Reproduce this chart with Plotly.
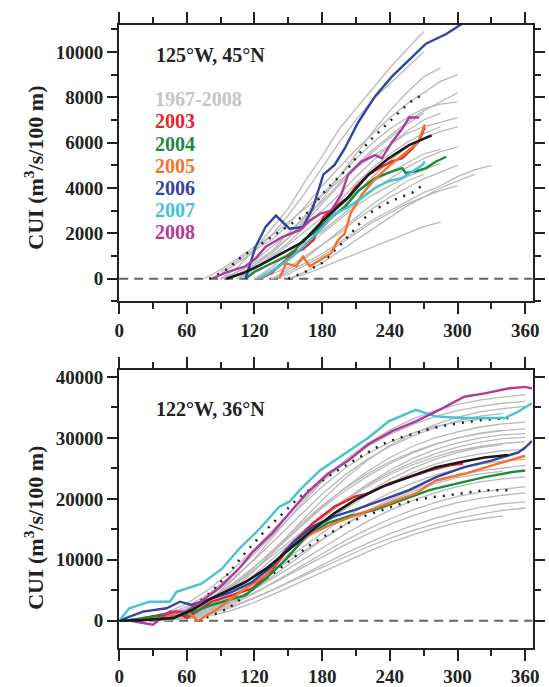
import plotly.graph_objects as go

# ---------------- DATA ----------------
# Top panel (125W, 45N) -- days and cumulative upwelling index
TOP_GRAY_DAYS = [75, 90, 105, 120, 135, 150, 165, 180, 195, 210, 225, 240, 255, 270, 285, 300, 315, 330]
N = None
TOP_GRAY = [
    [N, 0, 500, 1300, 2200, 3100, 4300, 5400, 6600, 7500, 8400, 9300, 10100, 10900, N, N, N, N],
    [N, 200, 700, 1200, 1900, 2800, 3800, 4900, 6000, 7000, 7900, 8600, 9300, 10000, N, N, N, N],
    [N, 300, 800, 1300, 1700, 2400, 3200, 4100, 4900, 5700, 6400, 7100, 7700, 8200, 8700, 9000, N, N],
    [N, N, 0, 600, 1200, 2000, 2800, 3700, 4500, 5300, 6000, 6600, 7100, 7500, 7700, 7800, N, N],
    [0, 400, 900, 1400, 1900, 2500, 3100, 3700, 4300, 4900, 5400, 5900, 6400, 6700, 6900, 7100, N, N],
    [N, N, N, 0, 400, 900, 1500, 2200, 3000, 3800, 4500, 5200, 5800, 6200, 6500, 6700, N, N],
    [N, N, 0, 300, 700, 1100, 1600, 2100, 2700, 3300, 3900, 4400, 4900, 5300, 5600, 5800, N, N],
    [N, N, N, N, 0, 300, 700, 1100, 1600, 2100, 2600, 3000, 3400, 3800, 4100, 4500, 4800, 5000],
    [N, N, N, N, N, 0, 200, 500, 800, 1100, 1400, 1700, 2000, 2300, 2500, N, N, N],
    [N, 0, 300, 800, 1400, 2000, 2700, 3400, 4200, 5000, 5700, 6300, 6900, 7400, 7800, 8200, N, N],
    [N, N, N, 0, 300, 800, 1400, 2000, 2600, 3200, 3700, 4100, 4500, 4800, 5100, N, N, N],
    [N, N, N, N, 0, 400, 900, 1500, 2100, 2700, 3300, 3800, 4300, 4600, N, N, N, N],
    [N, 0, 200, 600, 1100, 1800, 2600, 3500, 4500, 5500, 6500, 7400, 8200, 8900, 9300, N, N, N],
    [N, N, 0, 400, 900, 1500, 2100, 2700, 3200, 3800, 4300, 4700, 5100, 5500, 5700, N, N, N],
    [N, N, N, N, N, 0, 300, 700, 1200, 1700, 2200, 2700, 3200, 3600, 4000, 4300, 4600, N],
    [N, N, N, 0, 200, 500, 1000, 1500, 2000, 2600, 3100, 3600, 4000, 4400, 4700, 5000, N, N],
    [N, N, 0, 500, 1000, 1600, 2300, 3000, 3700, 4500, 5200, 5900, 6500, 7000, 7300, N, N, N],
    [N, 0, 300, 700, 1200, 1800, 2500, 3300, 4100, 4900, 5600, 6200, 6800, 7300, N, N, N, N],
    [N, N, N, 0, 500, 1100, 1800, 2600, 3400, 4200, 4900, 5500, 6000, 6400, 6700, N, N, N],
    [N, N, N, N, 0, 200, 600, 1000, 1500, 2000, 2500, 2900, 3300, 3600, 3900, 4100, N, N],
]

TOP_MEAN_DAYS = [95, 110, 125, 140, 163, 181, 203, 221, 239, 257, 277]
TOP_MEAN_VALS = [0, 250, 600, 1000, 1630, 2570, 3580, 4590, 5310, 5890, 6320]
TOP_UP_DAYS = [80, 95, 109, 133, 150, 166, 185, 203, 221, 239, 257, 272]
TOP_UP_VALS = [0, 400, 980, 1775, 2300, 2860, 4010, 4880, 6030, 6900, 7760, 8200]
TOP_LO_DAYS = [150, 165, 180, 200, 221, 233, 242, 260, 272]
TOP_LO_VALS = [0, 300, 700, 1700, 2860, 3220, 3440, 3800, 4230]

TOP_2003_D = [125, 135, 145, 154, 163, 172, 181, 191, 203, 209, 221, 233, 242, 251, 260, 266, 271]
TOP_2003_V = [0, 250, 700, 1125, 1300, 1700, 2710, 3150, 3580, 4010, 4590, 4950, 5170, 5310, 5740, 6100, 6680]
TOP_2004_D = [112, 120, 130, 140, 148, 156, 163, 172, 178, 188, 200, 212, 227, 242, 251, 254, 263, 272, 281, 290]
TOP_2004_V = [0, 300, 550, 800, 980, 1250, 1700, 1990, 2280, 2710, 3150, 3870, 4440, 4730, 4880, 4660, 4730, 4880, 5170, 5380]
TOP_2005_D = [142, 148, 157, 163, 169, 178, 188, 194, 200, 205, 215, 227, 240, 255, 265, 271]
TOP_2005_V = [0, 690, 550, 980, 550, 840, 1125, 1700, 1990, 2860, 3700, 4400, 5000, 5600, 6000, 6800]
TOP_2006_D = [112, 121, 130, 139, 151, 163, 172, 181, 191, 200, 212, 227, 242, 257, 272, 290, 306]
TOP_2006_V = [0, 1414, 2300, 2785, 2208, 2280, 3146, 4590, 5020, 5743, 6900, 8050, 8920, 9640, 10360, 10790, 11300]
TOP_2007_D = [124, 133, 142, 154, 166, 178, 191, 203, 215, 227, 239, 251, 260, 269, 271]
TOP_2007_V = [0, 250, 550, 1000, 1560, 2140, 2860, 3150, 3580, 4010, 4300, 4440, 4730, 5020, 5170]
TOP_2008_D = [82, 94, 112, 121, 130, 145, 160, 169, 178, 188, 197, 203, 215, 227, 233, 242, 251, 257, 266]
TOP_2008_V = [0, 260, 550, 900, 1414, 1850, 2140, 2570, 2860, 3000, 3720, 4590, 5170, 5450, 5310, 6030, 6610, 7110, 7110]

# Bottom panel (122W, 36N)
BOT_GRAY_DAYS = [0, 20, 40, 60, 80, 100, 120, 140, 160, 180, 200, 220, 240, 260, 280, 300, 320, 340, 360]
BOT_GRAY = [
    [0, 400, 1200, 2800, 5200, 8200, 11800, 15600, 19400, 23000, 26300, 29100, 31300, 33100, 34500, 35500, 36200, 36700, 37100],
    [0, 200, 600, 1500, 3500, 6500, 10200, 14500, 18900, 22800, 26000, 28600, 30600, 32200, 33500, 34500, 35200, 35700, 36000],
    [0, 100, 300, 900, 2400, 4900, 8200, 12000, 16000, 19800, 23300, 26300, 28800, 30700, 32200, 33400, 34300, 34800, 35200],
    [0, 300, 900, 2000, 4000, 6800, 10000, 13600, 17300, 20800, 23900, 26500, 28600, 30300, 31700, 32800, 33600, 34000, N],
    [0, 100, 400, 1200, 2900, 5400, 8400, 11800, 15300, 18700, 21800, 24500, 26800, 28600, 30000, 31000, 31800, 32300, 32600],
    [0, 200, 700, 1700, 3600, 6000, 8900, 12100, 15400, 18500, 21300, 23700, 25800, 27500, 28900, 30000, 30800, 31300, N],
    [0, 100, 300, 800, 2000, 4000, 6800, 10000, 13400, 16700, 19700, 22400, 24700, 26600, 28100, 29200, 30000, 30500, 30700],
    [0, 300, 800, 1800, 3500, 5800, 8400, 11300, 14300, 17200, 19900, 22300, 24300, 26000, 27400, 28500, 29300, 29900, 30100],
    [0, 0, 200, 700, 1800, 3700, 6300, 9300, 12500, 15600, 18500, 21000, 23200, 25000, 26500, 27600, 28400, 28900, N],
    [0, 200, 600, 1400, 2900, 4900, 7300, 10000, 12900, 15700, 18300, 20600, 22600, 24300, 25700, 26700, 27400, 27900, 28100],
    [0, 100, 400, 1000, 2200, 4000, 6300, 8900, 11700, 14400, 16900, 19100, 21000, 22600, 23900, 24900, 25700, 26200, 26500],
    [0, 0, 100, 500, 1400, 3000, 5200, 7800, 10600, 13300, 15800, 18000, 19900, 21500, 22800, 23800, 24600, 25100, 25500],
    [0, 200, 500, 1200, 2500, 4200, 6300, 8600, 11000, 13400, 15700, 17800, 19600, 21200, 22500, 23500, 24100, 24500, N],
    [0, 100, 300, 800, 1800, 3300, 5200, 7400, 9700, 12000, 14200, 16300, 18100, 19700, 21000, 22000, 22800, 23300, 23600],
    [0, 0, 200, 600, 1400, 2700, 4500, 6600, 8800, 11000, 13100, 15000, 16700, 18200, 19400, 20400, 21100, 21600, 22000],
    [0, 100, 300, 800, 1700, 3000, 4600, 6500, 8500, 10500, 12400, 14200, 15800, 17200, 18400, 19400, 20100, 20600, 21000],
    [0, 0, 100, 400, 1100, 2200, 3700, 5400, 7300, 9200, 11000, 12700, 14300, 15600, 16800, 17800, 18600, 19200, 19500],
    [0, 100, 200, 600, 1300, 2400, 3800, 5400, 7100, 8800, 10500, 12100, 13500, 14800, 15900, 16800, 17500, 18100, 18500],
    [0, 0, 100, 300, 800, 1700, 3000, 4600, 6300, 8000, 9700, 11300, 12800, 14100, 15200, 16100, 16700, 17200, N],
    [0, 300, 1000, 2300, 4500, 7500, 11000, 14800, 18600, 22000, 25000, 27400, 29300, 30800, 31900, 32600, 33100, 33400, N],
    [0, 100, 500, 1300, 3000, 5600, 8800, 12300, 15700, 18900, 21700, 24100, 26100, 27700, 29000, 30000, 30700, 31200, 31500],
    [0, 0, 300, 1000, 2500, 4700, 7600, 10800, 14000, 17000, 19700, 22000, 24000, 25600, 26900, 27900, 28600, 29100, 29400],
]

BOT_MEAN_DAYS = [0, 20, 48, 65, 82, 100, 112, 130, 151, 172, 191, 209, 233, 257, 281, 302, 324, 345]
BOT_MEAN_VALS = [0, 100, 430, 1800, 3660, 5200, 6350, 8500, 11740, 14970, 17660, 19810, 21970, 23580, 25200, 26000, 26800, 27200]
BOT_UP_DAYS = [60, 82, 97, 112, 127, 142, 157, 172, 188, 203, 218, 233, 248, 263, 278, 293, 308, 324, 345]
BOT_UP_VALS = [1500, 4740, 7800, 11200, 14300, 17120, 19800, 21970, 24000, 25730, 27400, 28960, 30000, 30850, 31600, 32190, 32600, 33000, 33270]
BOT_LO_DAYS = [70, 83, 97, 108, 118, 130, 142, 157, 172, 188, 203, 218, 233, 248, 263, 278, 293, 308, 324, 348]
BOT_LO_VALS = [0, 900, 2050, 3600, 5280, 6900, 8500, 10700, 12800, 14500, 16040, 17200, 18200, 19100, 19810, 20300, 20620, 21000, 21430, 21430]

BOT_2003_D = [12, 24, 36, 51, 60, 70, 82, 100, 118, 136, 154, 172, 191, 209, 221, 239, 257, 275, 293, 305]
BOT_2003_V = [0, 500, 970, 1500, 430, 1700, 3120, 4200, 5280, 8500, 12810, 16040, 18730, 20350, 20890, 22500, 23580, 24660, 25500, 25800]
BOT_2004_D = [6, 30, 60, 82, 112, 130, 148, 166, 185, 203, 227, 251, 275, 299, 324, 348, 360]
BOT_2004_V = [0, 700, 970, 2580, 4200, 6890, 10120, 13890, 16040, 17120, 18200, 19810, 21430, 22500, 23580, 24390, 24660]
BOT_2005_D = [12, 36, 60, 70, 88, 112, 130, 148, 166, 191, 215, 239, 263, 281, 306, 330, 354, 360]
BOT_2005_V = [0, 430, 1500, 0, 2050, 5280, 7430, 11740, 13890, 16040, 17660, 19270, 20890, 23040, 24120, 25460, 26810, 27080]
BOT_2006_D = [0, 21, 42, 54, 64, 82, 100, 118, 136, 154, 172, 191, 209, 233, 257, 281, 306, 330, 354, 360, 366]
BOT_2006_V = [0, 1500, 2050, 3120, 2580, 3660, 4740, 6350, 9040, 12810, 15500, 17120, 18200, 19810, 21430, 23580, 25200, 26270, 27620, 28430, 29500]
BOT_2007_D = [0, 9, 27, 45, 51, 73, 91, 106, 124, 142, 151, 160, 178, 200, 221, 239, 263, 281, 302, 324, 342, 354, 366]
BOT_2007_V = [0, 2050, 3120, 3120, 4740, 6080, 8500, 11740, 14970, 18730, 19540, 21430, 24660, 27350, 30040, 32730, 34620, 33540, 33270, 33270, 33270, 34350, 35690]
BOT_2008_D = [10, 30, 45, 60, 76, 88, 106, 118, 136, 151, 166, 185, 203, 221, 242, 263, 284, 306, 324, 345, 360, 366]
BOT_2008_V = [0, -650, 1500, 1500, 3660, 5280, 8500, 11200, 14430, 17660, 20890, 24120, 26270, 28960, 31120, 32730, 34620, 36770, 37310, 38120, 38380, 38120]

LEGEND_LABELS = ["1967-2008", "2003", "2004", "2005", "2006", "2007", "2008"]
SITE_LABELS = ["125°W, 45°N", "122°W, 36°N"]
X_TICKS = [0, 60, 120, 180, 240, 300, 360]
TOP_Y_TICKS = [0, 2000, 4000, 6000, 8000, 10000]
BOT_Y_TICKS = [0, 10000, 20000, 30000, 40000]

# ---------------- STYLE ----------------
GRAY = "#b9b9b9"
LEGEND_GRAY = "#c4c4c4"
YEAR_COLORS = ["#e8242c", "#1b8a3c", "#f2722e", "#3543a3", "#45c3d3", "#b23a9e"]
FONT = "Liberation Serif"
W, H = 549, 687

fig = go.Figure()


def add(x, y, color, width, xa, ya, dash=None):
    line = dict(color=color, width=width)
    if dash:
        line["dash"] = dash
    fig.add_trace(go.Scatter(x=x, y=y, mode="lines", line=line, xaxis=xa, yaxis=ya,
                             showlegend=False, hoverinfo="skip", connectgaps=False))


# top panel
for g in TOP_GRAY:
    add(TOP_GRAY_DAYS, g, GRAY, 1.3, "x", "y")
dots = "2px,7px"
add(TOP_UP_DAYS, TOP_UP_VALS, "#222", 2.5, "x", "y", dots)
add(TOP_LO_DAYS, TOP_LO_VALS, "#222", 2.5, "x", "y", dots)
top_years = [(TOP_2003_D, TOP_2003_V), (TOP_2004_D, TOP_2004_V), (TOP_2005_D, TOP_2005_V),
             (TOP_2006_D, TOP_2006_V), (TOP_2007_D, TOP_2007_V), (TOP_2008_D, TOP_2008_V)]
for (d, v), c in zip(top_years, YEAR_COLORS):
    add(d, v, c, 2.4, "x", "y")
add(TOP_MEAN_DAYS, TOP_MEAN_VALS, "#1a1a1a", 2.6, "x", "y")

# bottom panel
for g in BOT_GRAY:
    add(BOT_GRAY_DAYS, g, GRAY, 1.3, "x2", "y2")
add(BOT_UP_DAYS, BOT_UP_VALS, "#222", 2.5, "x2", "y2", dots)
add(BOT_LO_DAYS, BOT_LO_VALS, "#222", 2.5, "x2", "y2", dots)
bot_years = [(BOT_2003_D, BOT_2003_V), (BOT_2004_D, BOT_2004_V), (BOT_2005_D, BOT_2005_V),
             (BOT_2006_D, BOT_2006_V), (BOT_2007_D, BOT_2007_V), (BOT_2008_D, BOT_2008_V)]
for (d, v), c in zip(bot_years, YEAR_COLORS):
    add(d, v, c, 2.4, "x2", "y2")
add(BOT_MEAN_DAYS, BOT_MEAN_VALS, "#1a1a1a", 2.6, "x2", "y2")

tickfont = dict(family=FONT, size=19, color="#222", weight="bold")
common_x = dict(range=[0, 366.5], tickvals=X_TICKS, ticks="outside", ticklen=11, tickwidth=2,
                tickcolor="#222", showline=True, linewidth=2, linecolor="#222", mirror="ticks",
                showgrid=False, zeroline=False, tickfont=tickfont,
                minor=dict(dtick=30, tick0=0, ticks="outside", ticklen=6, tickwidth=2, tickcolor="#222"))
common_y = dict(ticks="outside", ticklen=10, tickwidth=2, tickcolor="#222", showline=True,
                linewidth=2, linecolor="#222", mirror="ticks", showgrid=False, zeroline=False,
                tickfont=tickfont, tickformat="d")

xd = [116.7 / W, 539.3 / W]
fig.update_layout(
    width=W, height=H, margin=dict(l=0, r=0, t=0, b=0),
    paper_bgcolor="white", plot_bgcolor="white",
    xaxis=dict(domain=xd, anchor="y", **common_x),
    yaxis=dict(domain=[1 - 302.3 / H, 1 - 21 / H], anchor="x", range=[-1000, 11200],
               tickvals=TOP_Y_TICKS,
               minor=dict(dtick=1000, tick0=0, ticks="outside", ticklen=6, tickwidth=2, tickcolor="#222"),
               **common_y),
    xaxis2=dict(domain=xd, anchor="y2", **common_x),
    yaxis2=dict(domain=[1 - 654 / H, 1 - 372.3 / H], anchor="x2", range=[-4400, 41100],
                tickvals=BOT_Y_TICKS,
                minor=dict(dtick=5000, tick0=0, ticks="outside", ticklen=6, tickwidth=2, tickcolor="#222"),
                **common_y),
    showlegend=False,
)

# zero reference lines
for xr, yr in (("x", "y"), ("x2", "y2")):
    fig.add_shape(type="line", xref=xr + " domain", yref=yr, x0=0, x1=1, y0=0, y1=0,
                  line=dict(color="#666", width=2, dash="9px,6px"), layer="below")

ann = []
# site labels
for lab, ypx in zip(SITE_LABELS, [51.7, 411.7]):
    ann.append(dict(text=lab, x=152.7 / W, y=1 - ypx / H, xref="paper", yref="paper",
                    xanchor="left", yanchor="middle", showarrow=False,
                    font=dict(family=FONT, size=20, color="#222", weight="bold")))
# legend text
leg_colors = [LEGEND_GRAY] + YEAR_COLORS
for i, (lab, c) in enumerate(zip(LEGEND_LABELS, leg_colors)):
    ypx = 96.7 + i * 22.55
    ann.append(dict(text=lab, x=151.7 / W, y=1 - ypx / H, xref="paper", yref="paper",
                    xanchor="left", yanchor="middle", showarrow=False,
                    font=dict(family=FONT, size=20, color=c, weight="bold")))
# y-axis titles
for ypx in (166, 532):
    ann.append(dict(text="CUI (m<sup>3</sup>/s/100 m)", x=30 / W, y=1 - ypx / H,
                    xref="paper", yref="paper", xanchor="center", yanchor="middle",
                    textangle=-90, showarrow=False,
                    font=dict(family=FONT, size=22, color="#222", weight="bold")))
fig.update_layout(annotations=ann)

fig.write_html("out.html")
